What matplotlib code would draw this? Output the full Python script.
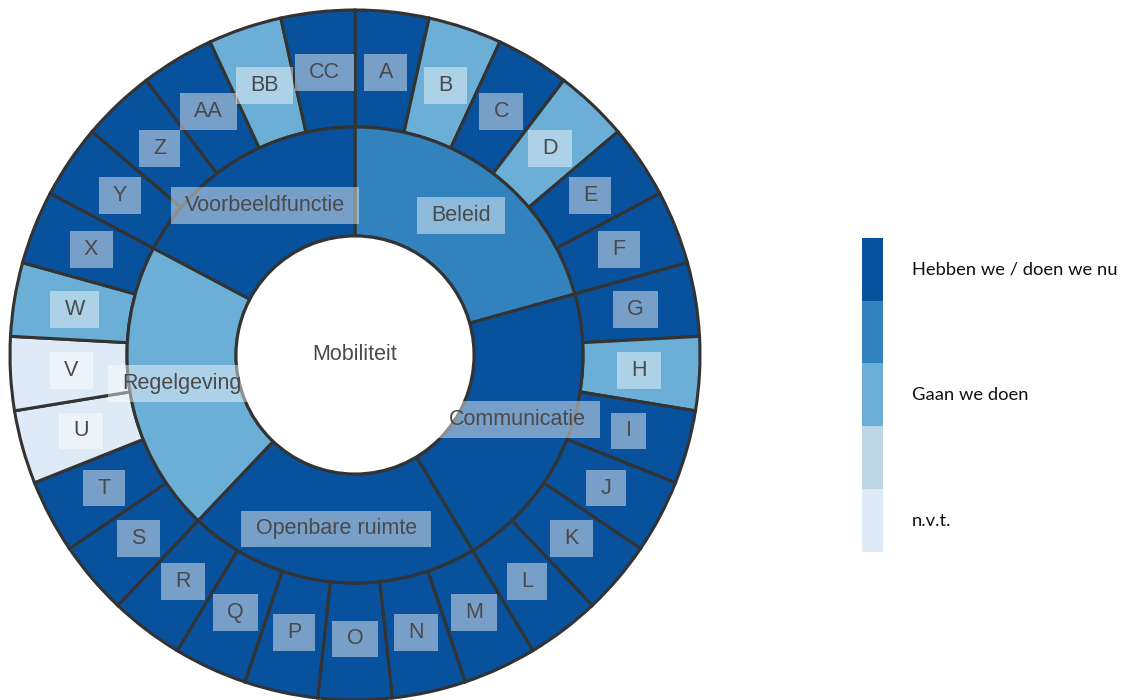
import numpy as np
import matplotlib.pyplot as plt
from matplotlib.path import Path
from matplotlib.colors import ListedColormap

# data
centre = 'Mobiliteit'
groups = ['Beleid', 'Communicatie', 'Openbare ruimte', 'Regelgeving', 'Voorbeeldfunctie']
group_status = [1, 0, 0, 2, 0]
items = ['A', 'B', 'C', 'D', 'E', 'F',
         'G', 'H', 'I', 'J', 'K', 'L',
         'M', 'N', 'O', 'P', 'Q', 'R',
         'S', 'T', 'U', 'V', 'W', 'X',
         'Y', 'Z', 'AA', 'BB', 'CC']
item_group = [0] * 6 + [1] * 6 + [2] * 6 + [3] * 6 + [4] * 5
# 0 = hebben we / doen we nu, 2 = gaan we doen, 4 = n.v.t.
item_status = [0, 2, 0, 2, 0, 0,
               0, 2, 0, 0, 0, 0,
               0, 0, 0, 0, 0, 0,
               0, 0, 4, 4, 2, 0,
               0, 0, 0, 2, 0]
legend_labels = ['Hebben we / doen we nu', '', 'Gaan we doen', '', 'n.v.t.']

palette = ['#08519c', '#3182bd', '#6baed6', '#bdd7e7', '#deebf7']
edge = '#333333'
txt = '#4a4a4a'

fig = plt.figure(figsize=(11.31, 7.0), dpi=100)
ax = fig.add_axes([0, 0, 710 / 1131, 1])

r_hole, r_mid, r_out = 119, 228, 345

group_sizes = [item_group.count(i) for i in range(len(groups))]

outer, _ = ax.pie(np.ones(len(items)), radius=r_out, startangle=90, counterclock=False,
                  colors=[palette[s] for s in item_status],
                  wedgeprops=dict(width=r_out - r_mid, edgecolor=edge, linewidth=2.2))
inner, _ = ax.pie(group_sizes, radius=r_mid, startangle=90, counterclock=False,
                  colors=[palette[s] for s in group_status],
                  wedgeprops=dict(width=r_mid - r_hole, edgecolor=edge, linewidth=2.2))
ax.add_patch(plt.Circle((0, 0), r_hole, facecolor='white', edgecolor=edge, linewidth=2.2))


# label box: wide horizontal padding, smaller vertical padding
def wide_box(x0, y0, width, height, mutation_size):
    hp, vp = 0.66 * mutation_size, 0.37 * mutation_size
    x0, y0 = x0 - hp, y0 - vp
    x1, y1 = x0 + width + 2 * hp, y0 + height + 2 * vp
    return Path([(x0, y0), (x1, y0), (x1, y1), (x0, y1), (x0, y0)], closed=True)


box = dict(boxstyle=wide_box, facecolor='white', edgecolor='none', alpha=0.45)


def label_ring(wedges, names, radius):
    for w, name in zip(wedges, names):
        ang = np.deg2rad((w.theta1 + w.theta2) / 2)
        ax.text(radius * np.cos(ang), radius * np.sin(ang), name, ha='center', va='center',
                fontsize=15.5, color=txt, family='Liberation Sans', bbox=box)


label_ring(outer, items, 284)
label_ring(inner, groups, 175)
ax.text(0, 0, centre, ha='center', va='center', fontsize=15.5, color=txt, family='Liberation Sans')

ax.set_xlim(-355, 355)
ax.set_ylim(-345, 355)
ax.set_aspect('auto')
ax.axis('off')

# legend as a colour strip
lax = fig.add_axes([862 / 1131, 148 / 700, 21 / 1131, 314 / 700])
lax.imshow(np.arange(len(palette)).reshape(-1, 1), cmap=ListedColormap(palette),
           aspect='auto', interpolation='nearest')
lax.axis('off')
for i, lab in enumerate(legend_labels):
    if lab:
        fig.text(912 / 1131, 1 - (238 + 63 * i + 31) / 700, lab, ha='left', va='center',
                 fontsize=13.2, family='Lato', color='#111111')

fig.savefig('out.png', dpi=100)
